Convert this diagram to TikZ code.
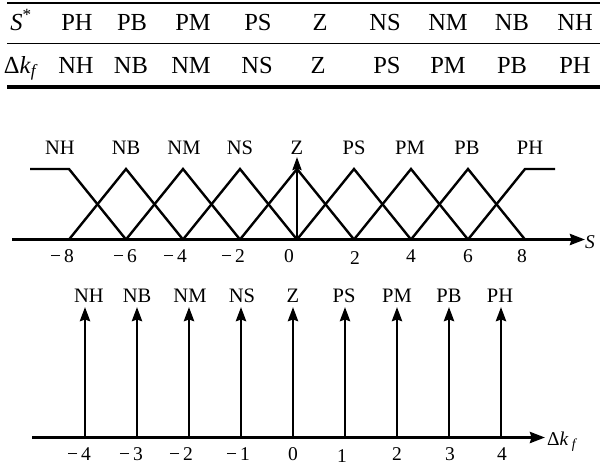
\documentclass[tikz,border=0pt]{standalone}
\usepackage{fontspec}
\setmainfont{Liberation Serif}
\usetikzlibrary{arrows.meta}
\begin{document}
\begin{tikzpicture}[x=1pt,y=-1pt,
  tab/.style={font=\fontsize{24.5}{26}\selectfont, anchor=base, inner sep=0pt},
  lab/.style={font=\fontsize{20.5}{22}\selectfont, anchor=base, inner sep=0pt},
  num/.style={font=\fontsize{19.5}{21}\selectfont, inner sep=0pt},
  rule/.style={line width=#1},
  mf/.style={line width=2.4pt, line join=miter},
  axisline/.style={line width=3pt, -{Stealth[length=15pt,width=11pt,inset=1.5pt]}},
  spike/.style={line width=2.8pt, -{Stealth[length=14pt,width=10pt,inset=1.5pt]}}]
\useasboundingbox (0,0) rectangle (600,467);

% ---------- table ----------
\draw[rule=2.2pt] (7,3) -- (600,3);
\draw[rule=1.8pt] (7,43.5) -- (600,43.5);
\draw[rule=3.4pt] (7,87) -- (600,87);

\node[tab] (h0) at (21,30) {\textit{S}\textsuperscript{*}};
\foreach \t/\x [count=\i] in {PH/77,PB/132,PM/193,PS/258,Z/320,NS/385,NM/448,NB/512,NH/575}
  \node[tab] (h\i) at (\x,30) {\t};
\node[tab] (g0) at (21,73) {Δ\textit{k}\textsubscript{\textit{f}}};
\foreach \t/\x [count=\i] in {NH/76,NB/131,NM/191,NS/257,Z/318,PS/387,PM/448,PB/512,PH/575}
  \node[tab] (g\i) at (\x,73) {\t};

% ---------- membership functions of S ----------
\coordinate (sa0) at (12,239.5);
\coordinate (sa1) at (585,239.5);
\draw[axisline] (sa0) -- (sa1);
\node[num, anchor=base west] (slab) at (585,248) {\textit{S}};

\draw[mf] (30,169) -- (69,169) -- (126,239.5);
\foreach \c in {-6,-4,...,6}
  \draw[mf] ({297+28.5*(\c-2)},239.5) -- ({297+28.5*\c},169) -- ({297+28.5*(\c+2)},239.5);
\draw[mf] (468,239.5) -- (525,169) -- (555,169);

\coordinate (z0) at (297,239.5);
\coordinate (z1) at (297,157);
\draw[line width=2.4pt, -{Stealth[length=13pt,width=9pt,inset=1.5pt]}] (z0) -- (z1);

\foreach \t/\x [count=\i] in {NH/60,NB/126,NM/184,NS/240,Z/297,PS/354,PM/410,PB/467,PH/530}
  \node[lab] (m\i) at (\x,154) {\t};

% tick labels
\foreach \n/\x [count=\i] in {8/74,6/137,4/187,2/245}
  \node[num, anchor=base east] (sn\i) at (\x,262) {−\kern3pt\n};
\node[num, anchor=base] (s0) at (289,262) {0};
\node[num, anchor=base] (sp2) at (355,264) {2};
\node[num, anchor=base] (sp4) at (411,262) {4};
\node[num, anchor=base] (sp6) at (468,262) {6};
\node[num, anchor=base] (sp8) at (522,262) {8};

% ---------- singletons of Delta k_f ----------
\coordinate (ka0) at (32,437.5);
\coordinate (ka1) at (545,437.5);
\draw[axisline] (ka0) -- (ka1);
\node[num, anchor=base west] (klab) at (547,445) {Δ\textit{k}\,\textsubscript{\textit{f}}};

\foreach \u [count=\i] in {-4,-3,...,4} {
  \coordinate (kb\i) at ({293+52*\u},437.5);
  \coordinate (kt\i) at ({293+52*\u},307);
  \draw[spike] (kb\i) -- (kt\i);
}
\foreach \t/\x [count=\i] in {NH/89,NB/137,NM/190,NS/242,Z/293,PS/344,PM/397,PB/449,PH/500}
  \node[lab] (k\i) at (\x,302) {\t};

\foreach \n/\x [count=\i] in {4/91,3/143,2/193,1/250}
  \node[num, anchor=base east] (kn\i) at (\x,460) {−\kern3pt\n};
\node[num, anchor=base] (k0n) at (293,460) {0};
\node[num, anchor=base] (kp1) at (342,462) {1};
\node[num, anchor=base] (kp2) at (397,460) {2};
\node[num, anchor=base] (kp3) at (450,460) {3};
\node[num, anchor=base] (kp4) at (502,460) {4};
\end{tikzpicture}
\end{document}
